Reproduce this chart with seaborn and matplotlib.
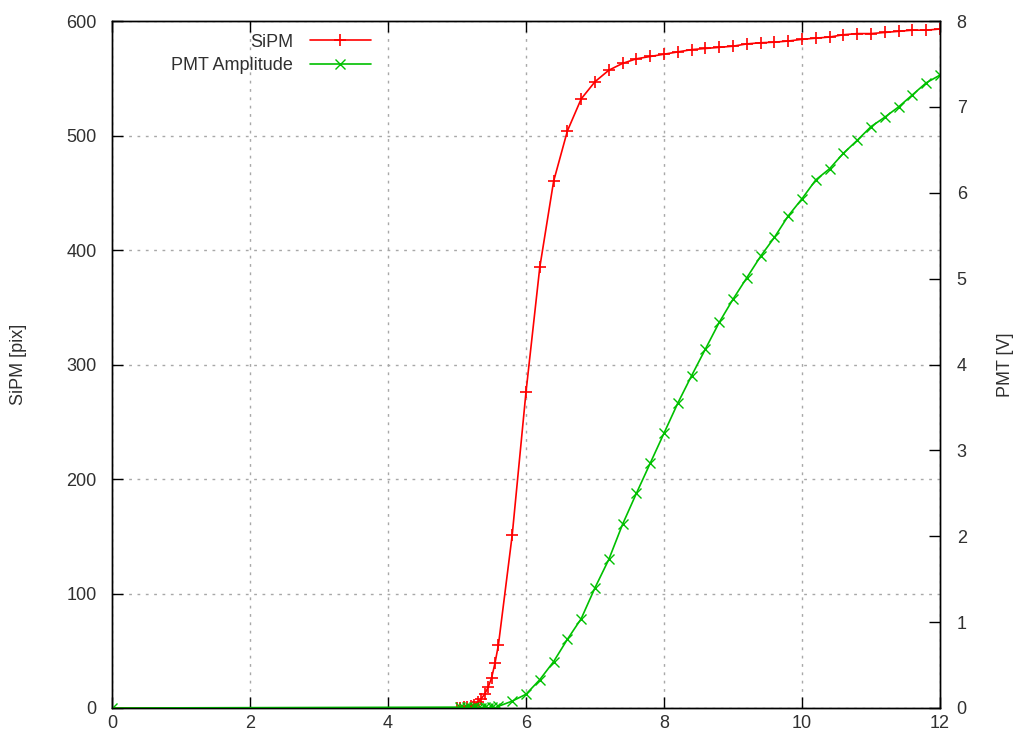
import matplotlib
matplotlib.use("Agg")
import matplotlib.pyplot as plt
import seaborn as sns
import pandas as pd

# ---- data ----
sipm_x = [0, 5.0, 5.05, 5.1, 5.15, 5.2, 5.25, 5.3, 5.35, 5.4, 5.45, 5.5, 5.55, 5.6,
          5.8, 6.0, 6.2, 6.4, 6.6, 6.8, 7.0, 7.2, 7.4, 7.6, 7.8, 8.0, 8.2, 8.4, 8.6, 8.8,
          9.0, 9.2, 9.4, 9.6, 9.8, 10.0, 10.2, 10.4, 10.6, 10.8, 11.0, 11.2, 11.4, 11.6,
          11.8, 12.0]
sipm_y = [0, 0, 0, 0.5, 1, 2, 3, 5, 8, 12, 18, 26, 39, 55,
          151, 276, 385, 460, 504, 532, 547, 557, 563, 567, 569, 571, 573, 575, 576, 577,
          578, 580, 581, 581.5, 582.5, 584, 585, 586, 588, 589, 589, 590, 591, 592,
          592, 593]

pmt_x = [0, 5.05, 5.1, 5.15, 5.2, 5.25, 5.3, 5.35, 5.4, 5.45, 5.5, 5.55, 5.6,
         5.8, 6.0, 6.2, 6.4, 6.6, 6.8, 7.0, 7.2, 7.4, 7.6, 7.8, 8.0, 8.2, 8.4, 8.6, 8.8,
         9.0, 9.2, 9.4, 9.6, 9.8, 10.0, 10.2, 10.4, 10.6, 10.8, 11.0, 11.2, 11.4, 11.6,
         11.8, 12.0]
pmt_y = [0, 0.01, 0.0, 0.01, 0.0, 0.01, 0.0, 0.0, 0.01, 0.0, 0.01, 0.0, 0.02,
         0.08, 0.16, 0.33, 0.54, 0.80, 1.04, 1.40, 1.73, 2.14, 2.50, 2.85, 3.20, 3.55, 3.87,
         4.18, 4.49, 4.76, 5.01, 5.26, 5.48, 5.73, 5.93, 6.15, 6.28, 6.46, 6.61, 6.77, 6.88,
         7.00, 7.14, 7.28, 7.37]

x_ticks = [0, 2, 4, 6, 8, 10, 12]
y_ticks = [0, 100, 200, 300, 400, 500, 600]
y2_ticks = [0, 1, 2, 3, 4, 5, 6, 7, 8]

sipm_label = "SiPM"
pmt_label = "PMT Amplitude"
y_label = "SiPM [pix]"
y2_label = "PMT [V]"

# ---- style ----
sns.set_theme(style="white")
plt.rcParams["font.family"] = ["Liberation Sans", "DejaVu Sans"]
text_color = "#303030"
fs = 13
red = "#ff0000"
green = "#00c000"

fig = plt.figure(figsize=(10.13, 7.44), dpi=100)
ax = fig.add_axes([112 / 1013, 1 - 708 / 744, 828 / 1013, 687 / 744])
ax2 = ax.twinx()

df_s = pd.DataFrame({"x": sipm_x, "y": sipm_y})
df_p = pd.DataFrame({"x": pmt_x, "y": pmt_y})

sns.lineplot(data=df_s, x="x", y="y", ax=ax, color=red, lw=1.2,
             marker="+", markersize=9, markeredgewidth=1.2,
             markeredgecolor=red, markerfacecolor=red, label=sipm_label,
             legend=False, sort=False)
sns.lineplot(data=df_p, x="x", y="y", ax=ax2, color=green, lw=1.2,
             marker="x", markersize=7.5, markeredgewidth=1.0,
             markeredgecolor=green, markerfacecolor=green, label=pmt_label,
             legend=False, sort=False)

ax.set_xlim(0, 12)
ax.set_ylim(0, 600)
ax2.set_ylim(0, 8)
ax.set_xticks(x_ticks)
ax.set_yticks(y_ticks)
ax2.set_yticks(y2_ticks)
ax.set_xticklabels([str(v) for v in x_ticks])
ax.set_yticklabels([str(v) for v in y_ticks])
ax2.set_yticklabels([str(v) for v in y2_ticks])

ax.grid(True, linestyle=(0, (2, 4)), color="#a8a8a8", lw=1.0)
ax2.grid(False)

for a in (ax, ax2):
    for s in a.spines.values():
        s.set_color("black")
        s.set_linewidth(1.0)
        s.set_visible(True)

ax.tick_params(axis="x", direction="in", length=8, width=1, top=True, bottom=True,
               labelsize=fs, labelcolor=text_color, pad=5, color="black")
ax.tick_params(axis="y", direction="in", length=8, width=1, left=True, right=False,
               labelsize=fs, labelcolor=text_color, pad=11, color="black")
ax2.tick_params(axis="y", direction="in", length=8, width=1, right=True, left=False,
                labelsize=fs, labelcolor=text_color, pad=12, color="black")

ax.set_xlabel("")
ax.set_ylabel(y_label, fontsize=fs, color=text_color, labelpad=28)
ax2.set_ylabel(y2_label, fontsize=fs, color=text_color, labelpad=22, rotation=90)

h1, l1 = ax.get_legend_handles_labels()
h2, l2 = ax2.get_legend_handles_labels()
leg = ax2.legend(h1 + h2, l1 + l2, loc="upper right", bbox_to_anchor=(0.328, 1.0),
                 frameon=False, markerfirst=False, fontsize=fs, handlelength=3.4,
                 handletextpad=0.9, labelspacing=0.35, borderaxespad=0.3)
for t in leg.get_texts():
    t.set_color(text_color)

fig.savefig("out.png", dpi=100)
